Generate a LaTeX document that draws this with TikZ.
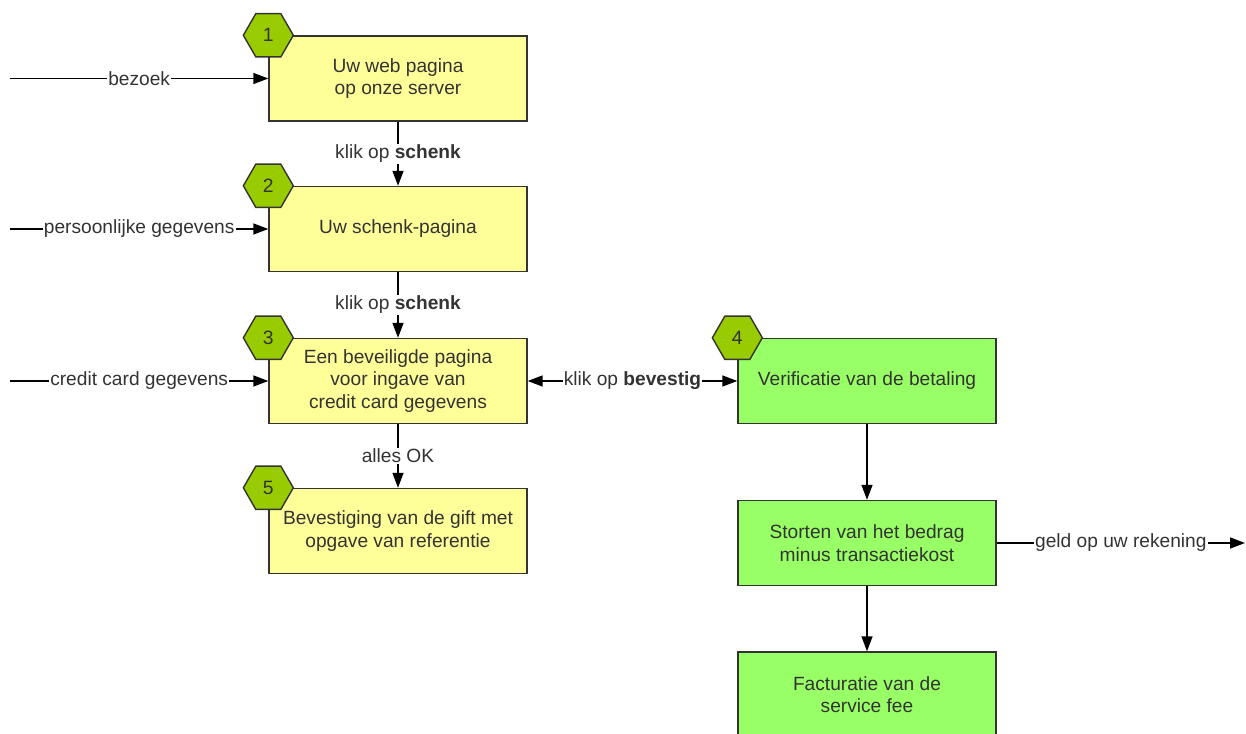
\documentclass[tikz,border=0pt]{standalone}
\usepackage{fontspec}
\setmainfont{Liberation Sans}
\usetikzlibrary{arrows.meta,shapes.geometric,positioning}
\definecolor{paleyellow}{HTML}{FFFF99}
\definecolor{palegreen}{HTML}{99FF66}
\definecolor{hexgreen}{HTML}{99CC00}
\definecolor{inkgray}{HTML}{333333}
\begin{document}
\begin{tikzpicture}[x=0.02cm,y=0.02cm,font=\fontsize{10.9}{12.8}\selectfont,
  every path/.style={line width=0.8pt},
  stepbox/.style={draw=black!80,minimum width=5.16cm,minimum height=1.7cm,align=center,text=inkgray,inner sep=2pt},
  webbox/.style={stepbox,fill=paleyellow},
  bankbox/.style={stepbox,fill=palegreen},
  hexnum/.style={regular polygon,regular polygon sides=6,minimum size=1cm,inner sep=0pt,draw=black!80,fill=hexgreen,text=inkgray,font=\fontsize{11}{13}\selectfont},
  tip/.tip={Triangle[length=0.3cm,width=0.22cm]},
  flow/.style={-tip},
  twoway/.style={tip-tip},
  lbl/.style={fill=white,inner sep=0.6pt,text=inkgray}]

\useasboundingbox[fill=white] (0,0) rectangle (1246,733);

% web side
\node[webbox] (web) at (398,654.5) {Uw web pagina\\op onze server};
\node[webbox] (schenk) at (398,504) {Uw schenk-pagina};
\node[webbox] (secure) at (398,352) {Een beveiligde pagina\\voor ingave van\\credit card gegevens};
\node[webbox] (confirm) at (398,202) {Bevestiging van de gift met\\opgave van referentie};

% bank side
\node[bankbox] (verify) at (867,352) {Verificatie van de betaling};
\node[bankbox] (deposit) at (867,190) {Storten van het bedrag\\minus transactiekost};
\node[bankbox] (invoice) at (867,38.5) {Facturatie van de\\service fee};

% numbers
\node[hexnum] (n1) at (web.north west) {1};
\node[hexnum] (n2) at (schenk.north west) {2};
\node[hexnum] (n3) at (secure.north west) {3};
\node[hexnum] (n5) at (confirm.north west) {5};
\node[hexnum] (n4) at (verify.north west) {4};

% free ends
\coordinate (in1) at (10,654.5);
\coordinate (in2) at (10,504);
\coordinate (in3) at (10,352);
\coordinate (out) at (1245,190);

\draw[flow] (in1) -- node[lbl] {bezoek} (web);
\draw[flow] (in2) -- node[lbl] {persoonlijke gegevens} (schenk);
\draw[flow] (in3) -- node[lbl] {credit card gegevens} (secure);

\draw[flow] (web) -- node[lbl] {klik op \textbf{schenk}} (schenk);
\draw[flow] (schenk) -- node[lbl] {klik op \textbf{schenk}} (secure);
\draw[flow] (secure) -- node[lbl] {alles OK} (confirm);
\draw[twoway] (secure) -- node[lbl] {klik op \textbf{bevestig}} (verify);

\draw[flow] (verify) -- (deposit);
\draw[flow] (deposit) -- (invoice);
\draw[flow] (deposit) -- node[lbl] {geld op uw rekening} (out);

\end{tikzpicture}
\end{document}
